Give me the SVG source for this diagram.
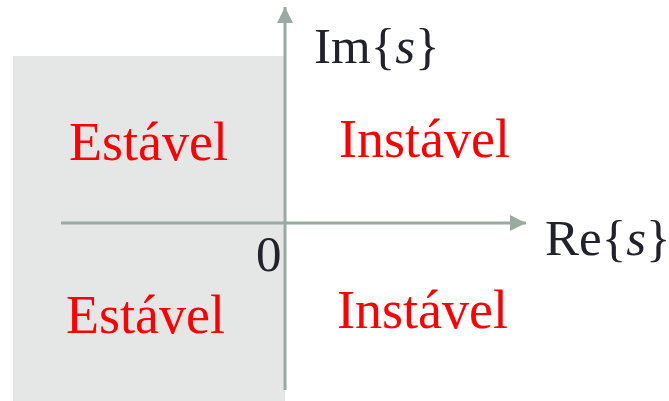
<svg xmlns="http://www.w3.org/2000/svg" width="669" height="401" viewBox="0 0 669 401">
<style>
.lbl{font-family:"Liberation Serif","Times New Roman",serif;font-size:54px;fill:#ff0000}
.ax{font-family:"Liberation Serif","Times New Roman",serif;font-size:51px;fill:#22222c}
.axis{stroke:#9aaa9f;stroke-width:3;fill:none}
</style>
<defs>
<marker id="arr" viewBox="0 0 16 16" refX="16" refY="8" markerWidth="16" markerHeight="16" markerUnits="userSpaceOnUse" orient="auto">
<path d="M0,0 L16,8 L0,16 z" fill="#9aaa9f"/>
</marker>
</defs>
<g id="region">
<rect x="13" y="56" width="272" height="345" fill="#e5e7e6"/>
</g>
<g id="connectors">
<line class="axis" x1="285" y1="390" x2="285" y2="7" marker-end="url(#arr)"/>
<line class="axis" x1="61" y1="223" x2="526" y2="223" marker-end="url(#arr)"/>
</g>
<g id="labels">
<text class="lbl" x="69" y="160">Estável</text>
<text class="lbl" x="339" y="157">Instável</text>
<text class="lbl" x="66" y="333">Estável</text>
<text class="lbl" x="337" y="328">Instável</text>
<text class="ax" x="314" y="63">Im{<tspan font-style="italic">s</tspan>}</text>
<text class="ax" x="545" y="255">Re{<tspan font-style="italic">s</tspan>}</text>
<text class="ax" x="256" y="271">0</text>
</g>
</svg>
